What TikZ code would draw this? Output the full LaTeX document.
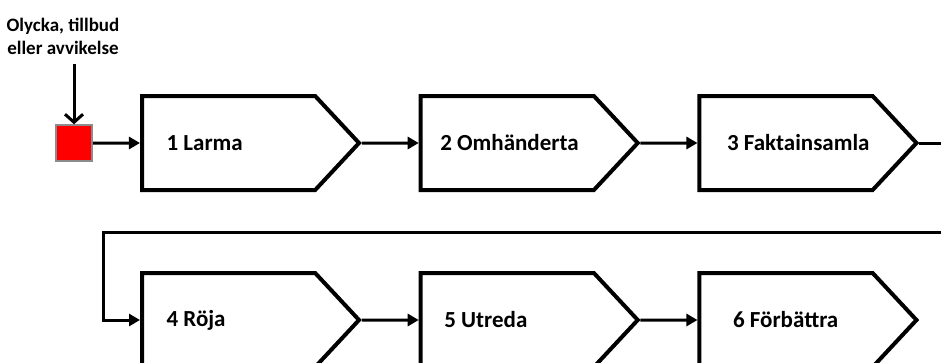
\documentclass[tikz,border=0pt]{standalone}
\usepackage{fontspec}
\setmainfont{Carlito}
\usetikzlibrary{shapes.symbols, arrows.meta, positioning}
\definecolor{AlarmRed}{HTML}{FF0000}
\definecolor{AlarmGrey}{HTML}{8C8C8C}
\definecolor{FlowBlack}{HTML}{000000}
\newcommand{\stagetext}[2]{\makebox[150pt][l]{\hspace*{#1}#2}}
\tikzset{
    % Stage box style
    stage/.style={
        signal,
        signal to=east,
        signal from=nowhere,
        signal pointer angle=94,
        draw=FlowBlack,
        fill=white,
        line width=4pt,
        minimum width=217pt,
        minimum height=94pt,
        font=\fontsize{23}{27}\selectfont\bfseries
    },
    % Event marker style
    marker/.style={
        rectangle,
        draw=AlarmGrey,
        fill=AlarmRed,
        line width=1.5pt,
        minimum size=36pt,
        inner sep=0pt
    },
    % Event text style
    eventtext/.style={
        align=center,
        font=\fontsize{19}{23}\selectfont\bfseries
    },
    % Arrow style
    flow/.style={
        -{Triangle[length=11pt,width=12pt]},
        line width=3pt,
        color=FlowBlack
    },
    % Incoming arrow style
    incoming/.style={
        -{Straight Barb[length=8pt,width=18pt]},
        line width=3pt,
        color=FlowBlack
    }
}
\begin{document}
\begin{tikzpicture}[x=1pt, y=-1pt, node distance=57pt and 57pt]
    \clip (0,0) rectangle (941,362);
    % Start of the chain
    \node (alarm) [marker] at (74,143) {};
    \node (event) [eventtext] at (63,36) {Olycka, tillbud\\eller avvikelse};

    % First row
    \node (larma) [stage, anchor=west] at (140,143) {\stagetext{13pt}{1 Larma}};
    \node (omhandert) [stage, right=of larma] {\stagetext{8pt}{2 Omhänderta}};
    \node (fakta) [stage, right=of omhandert] {\stagetext{16pt}{3 Faktainsamla}};

    % Second row
    \node (roja) [stage, below=79pt of larma] {\stagetext{13pt}{4 Röja}};
    \node (utreda) [stage, right=of roja] {\stagetext{12pt}{5 Utreda}};
    \node (forbattra) [stage, right=of utreda] {\stagetext{22pt}{6 Förbättra}};

    \coordinate (wrapR) at (960,232);
    \coordinate (wrapL) at (103,232);

    \draw [incoming] (alarm.north |- event.south) ++(0,6) -- (alarm.north);
    \draw [flow] (alarm) -- (larma);
    \draw [flow] (larma) -- (omhandert);
    \draw [flow] (omhandert) -- (fakta);
    \draw [flow] (fakta.east) -| (wrapR) -- (wrapL) |- (roja.west);
    \draw [flow] (roja) -- (utreda);
    \draw [flow] (utreda) -- (forbattra);
\end{tikzpicture}
\end{document}
